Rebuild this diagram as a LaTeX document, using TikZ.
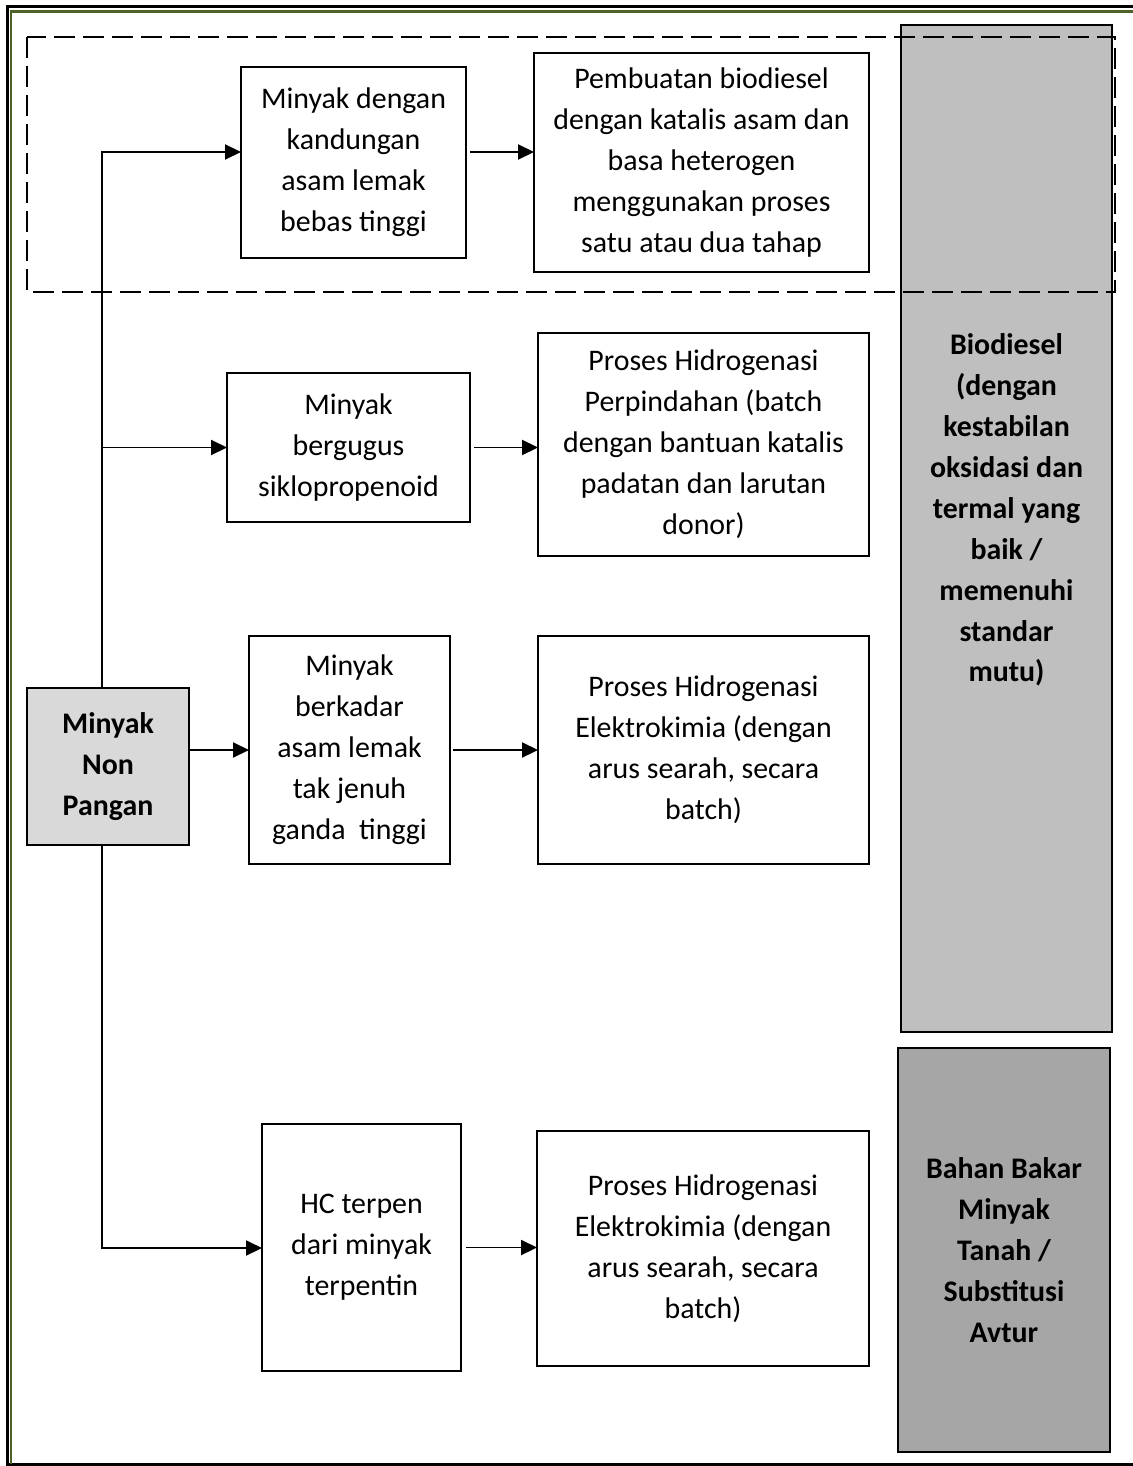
\documentclass[tikz,border=0pt]{standalone}
\usepackage{fontspec}
\setmainfont{Carlito}
\usetikzlibrary{arrows.meta}

\definecolor{frameGreen}{HTML}{4F6228}
\tikzset{
  box/.style={draw, line width=1.1pt, inner sep=0pt, outer sep=0pt, align=center,
    font=\fontsize{17}{23.3}\selectfont},
  bold box/.style={box, font=\fontsize{17}{23.3}\selectfont\bfseries},
  flow/.style={line width=1.1pt, -{Triangle[length=0.32cm, width=0.3cm]}}
}

\begin{document}
\begin{tikzpicture}[x=0.02cm, y=-0.02cm]
	\useasboundingbox (0,0) rectangle (1132,1466);
	% page frame
	\draw[line width=1.7pt] (1140,6.5) -- (7.5,6.5) -- (7.5,1464) -- (1140,1464);
	\draw[frameGreen, line width=1.4pt] (1140,11.5) -- (11,11.5) -- (11,1464);
	% result boxes
	\node[box, fill=black!25, minimum width=4.22cm, minimum height=20.14cm] (bio) at (1006.5,528.5) {};
	\node[align=center, font=\fontsize{17}{23.3}\selectfont\bfseries] (bioText) at (1006.5,510)
		{Biodiesel\\(dengan\\kestabilan\\oksidasi dan\\termal yang\\baik /\\memenuhi\\standar\\mutu)};
	\node[bold box, fill=black!35, minimum width=4.24cm, minimum height=8.08cm] (fuel) at (1004,1250)
		{Bahan Bakar\\Minyak\\Tanah /\\Substitusi\\Avtur};
	% source
	\node[bold box, fill=black!15, minimum width=3.24cm, minimum height=3.14cm] (src) at (108,766.5)
		{Minyak\\Non\\Pangan};
	% feedstocks
	\node[box, minimum width=4.5cm, minimum height=3.82cm] (fattyA) at (353.5,162.5)
		{Minyak dengan\\kandungan\\asam lemak\\bebas tinggi};
	\node[box, minimum width=4.86cm, minimum height=2.98cm] (cyclo) at (348.5,447.5)
		{Minyak\\bergugus\\siklopropenoid};
	\node[box, minimum width=4.02cm, minimum height=4.56cm] (pufa) at (349.5,750)
		{Minyak\\berkadar\\asam lemak\\tak jenuh\\ganda\ \ tinggi};
	\node[box, minimum width=3.98cm, minimum height=4.94cm] (terpene) at (361.5,1247.5)
		{HC terpen\\dari minyak\\terpentin};
	% processes
	\node[box, minimum width=6.7cm, minimum height=4.38cm] (esterif) at (701.5,162.5)
		{Pembuatan biodiesel\\dengan katalis asam dan\\basa heterogen\\menggunakan proses\\satu atau dua tahap};
	\node[box, minimum width=6.62cm, minimum height=4.46cm] (transfer) at (703.5,444.5)
		{Proses Hidrogenasi\\Perpindahan (batch\\dengan bantuan katalis\\padatan dan larutan\\donor)};
	\node[box, minimum width=6.62cm, minimum height=4.56cm] (electroA) at (703.5,750)
		{Proses Hidrogenasi\\Elektrokimia (dengan\\arus searah, secara\\batch)};
	\node[box, minimum width=6.64cm, minimum height=4.7cm] (electroB) at (703,1248.5)
		{Proses Hidrogenasi\\Elektrokimia (dengan\\arus searah, secara\\batch)};
	% dashed group
	\draw[line width=1.4pt, dash pattern=on 0.42cm off 0.16cm] (27,37) rectangle (1115,292);
	% connectors
	\coordinate (top) at (102,152);
	\coordinate (bot) at (102,1248);
	\draw[flow] (top |- src.north) -- (top) -- (top -| fattyA.west);
	\draw[flow] (top |- cyclo.west) -- (cyclo.west);
	\draw[flow] (bot |- src.south) -- (bot) -- (bot -| terpene.west);
	\draw[flow] (pufa.west -| src.east) -- (pufa.west);
	\draw[flow] ([xshift=0.08cm]top -| fattyA.east) -- (top -| esterif.west);
	\draw[flow] ([xshift=0.08cm]cyclo.east) -- (cyclo.east -| transfer.west);
	\draw[flow] ([xshift=0.06cm]pufa.east) -- (electroA.west);
	\draw[flow] ([xshift=0.1cm]terpene.east) -- (terpene.east -| electroB.west);
\end{tikzpicture}
\end{document}
